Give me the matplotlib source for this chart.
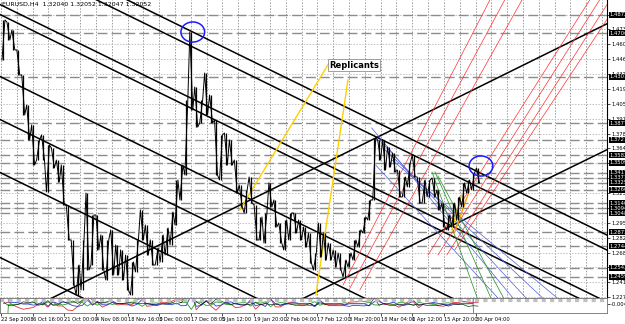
import numpy as np
import matplotlib
matplotlib.use("Agg")
import matplotlib.pyplot as plt
from matplotlib.patches import Ellipse
from matplotlib.transforms import blended_transform_factory

# EURUSD H4 in blocks of 10 bars (high / low)
col_high = [1.4826, 1.4807, 1.4734, 1.4550, 1.4319, 1.4043, 1.3859, 1.3721, 1.3767, 1.3675,
            1.3647, 1.3536, 1.3490, 1.3122, 1.2800, 1.2569, 1.2800, 1.3232, 1.3030, 1.3030,
            1.2846, 1.2800, 1.2892, 1.2754, 1.2708, 1.2661, 1.2597, 1.2800, 1.3076, 1.2938,
            1.2800, 1.2726, 1.2846, 1.2910, 1.3057, 1.3352, 1.3490, 1.4089, 1.4715, 1.4209,
            1.4089, 1.4338, 1.4135, 1.3905, 1.3767, 1.3785, 1.3721, 1.3536, 1.3306, 1.3260,
            1.3380, 1.3122, 1.3011, 1.3048, 1.3325, 1.3168, 1.2956, 1.2984, 1.3048, 1.3048,
            1.2984, 1.2919, 1.2864, 1.2680, 1.2956, 1.2864, 1.2772, 1.2708, 1.2680, 1.2615,
            1.2680, 1.2800, 1.2892, 1.3011, 1.3168, 1.3739, 1.3721, 1.3721, 1.3656, 1.3601,
            1.3444, 1.3380, 1.3509, 1.3582, 1.3380, 1.3352, 1.3352, 1.3371, 1.3260, 1.3140,
            1.3030, 1.3140, 1.3196, 1.3325, 1.3352, 1.3417, 1.3463]
col_low = [1.4457, 1.4642, 1.4550, 1.4319, 1.3951, 1.3721, 1.3490, 1.3536, 1.3536, 1.3242,
           1.3463, 1.3334, 1.3122, 1.2800, 1.2385, 1.2293, 1.2339, 1.2523, 1.2569, 1.2708,
           1.2523, 1.2431, 1.2477, 1.2477, 1.2431, 1.2339, 1.2293, 1.2505, 1.2800, 1.2661,
           1.2569, 1.2569, 1.2597, 1.2661, 1.2754, 1.2938, 1.3168, 1.3398, 1.3997, 1.3840,
           1.3877, 1.3951, 1.3877, 1.3398, 1.3352, 1.3490, 1.3490, 1.3232, 1.3104, 1.3048,
           1.3140, 1.2800, 1.2800, 1.2772, 1.3104, 1.2919, 1.2772, 1.2708, 1.2800, 1.2864,
           1.2800, 1.2735, 1.2588, 1.2523, 1.2643, 1.2615, 1.2615, 1.2551, 1.2523, 1.2459,
           1.2551, 1.2615, 1.2735, 1.2864, 1.2984, 1.3168, 1.3536, 1.3444, 1.3472, 1.3426,
           1.3196, 1.3196, 1.3288, 1.3380, 1.3140, 1.3140, 1.3196, 1.3196, 1.3076, 1.2919,
           1.2892, 1.2919, 1.2984, 1.3104, 1.3232, 1.3260, 1.3325]
bars_per_col = 10

time_labels = ["22 Sep 2008", "6 Oct 16:00", "21 Oct 00:00", "4 Nov 08:00", "18 Nov 16:00",
               "3 Dec 00:00", "17 Dec 08:00", "5 Jan 12:00", "19 Jan 20:00", "2 Feb 04:00",
               "17 Feb 12:00", "3 Mar 20:00", "18 Mar 04:00", "1 Apr 12:00", "15 Apr 20:00",
               "30 Apr 04:00"]
bars_per_label = 64

# horizontal levels (dashed) drawn by the trader
levels = [1.4872, 1.4706, 1.4301, 1.3877, 1.3721, 1.3582, 1.3509, 1.3417, 1.3371, 1.3325,
          1.3260, 1.3140, 1.3094, 1.3048, 1.2873, 1.2744, 1.2542, 1.2459]
price_ticks = [1.2273 + 0.0137 * k for k in range(20)]

# parallel falling channel lines: price at bar 0, common slope per bar
fall_start = [1.5581, 1.5443, 1.4964, 1.4872, 1.4301, 1.3905, 1.3417, 1.2634]
fall_slope = -0.0002232

# other lines: (bar0, price0, bar1, price1)
rise_lines = [(103, 1.2265, 1225, 1.4789), (605, 1.2247, 1225, 1.3629)]
red_lines = [(692, 1.2385, 989, 1.5010), (706, 1.2357, 1019, 1.5010), (726, 1.2339, 1054, 1.5010),
             (864, 1.2662, 1191, 1.5010), (884, 1.2662, 1211, 1.5010), (902, 1.2662, 1232, 1.5010),
             (918, 1.2708, 1252, 1.5010)]
blue_lines = [(750, 1.3831, 1039, 1.2247), (766, 1.3721, 1066, 1.2247), (777, 1.3629, 1100, 1.2247),
              (791, 1.3536, 1130, 1.2247), (758, 1.3490, 1009, 1.2247)]
green_lines = [(872, 1.3426, 965, 1.2247), (878, 1.3426, 993, 1.2247), (884, 1.3389, 1019, 1.2247)]
yellow_lines = [(483, 1.3076, 665, 1.4439), (637, 1.2293, 702, 1.4273), (912, 1.2892, 932, 1.3214)]
orange_lines = [(918, 1.2873, 948, 1.3260)]
circles = [(388, 1.4715), (971, 1.3481)]

xmin, xmax = -2, 1226
ymin, ymax = 1.2265, 1.5010

fig = plt.figure(figsize=(6.25, 3.24), dpi=100)
ax = fig.add_axes([0, 0.0802, 0.9712, 0.9198])
ind = fig.add_axes([0, 0.034, 0.9712, 0.0462])
ax.set_xlim(xmin, xmax)
ax.set_ylim(ymin, ymax)
ind.set_xlim(xmin, xmax)

grid_c = "#9a9a9a"
for b in range(0, xmax, bars_per_label // 2):
    ax.axvline(b, color=grid_c, lw=0.7, ls=(0, (1.5, 1.5)), zorder=1)
for p in price_ticks:
    ax.axhline(p, color="#c0c0c0", lw=0.7, ls=(0, (1.5, 1.5)), zorder=1)
for p in levels:
    ax.axhline(p, color="#8c8c8c", lw=1.0, ls=(0, (7, 3)), zorder=1.5)

xs = np.array([xmin, xmax])
for p0 in fall_start:
    ax.plot(xs, p0 + fall_slope * xs, color="black", lw=1.1, zorder=2)


def seg(lines, color, lw):
    for b0, p0, b1, p1 in lines:
        ax.plot([b0, b1], [p0, p1], color=color, lw=lw, zorder=2)


seg(rise_lines, "black", 1.1)
seg(red_lines, "#ff3030", 0.5)
seg(blue_lines, "#4f5fd8", 0.5)
seg(green_lines, "#2a9a2a", 0.55)
seg(yellow_lines, "#ffd000", 1.0)
seg(orange_lines, "#ff9900", 1.0)

# price bars
hi = np.array(col_high)
lo = np.array(col_low)
mid = (hi + lo) / 2
centers = np.arange(len(hi)) * bars_per_col + bars_per_col / 2
ax.vlines(centers, lo, hi, color="black", lw=0.9, zorder=3)
zx, zy = [], []
for k in range(len(hi)):
    up = k + 1 < len(hi) and mid[k + 1] > mid[k]
    zx += [centers[k] - 3, centers[k] + 3]
    zy += [lo[k], hi[k]] if up else [hi[k], lo[k]]
ax.plot(zx, zy, color="black", lw=0.7, zorder=3)

for cx, cy in circles:
    ax.add_patch(Ellipse((cx, cy), 48, 0.0185, fill=False, ec="#1a1aff", lw=1.1, zorder=4))

ax.text(714, 1.4411, "Replicants", fontsize=6, fontweight="bold", ha="center", va="center",
        zorder=5, bbox=dict(boxstyle="square,pad=0.15", fc="white", ec="#909090", lw=0.6))
ax.text(2, 1.4995, "EURUSD,H4  1.32040 1.32052 1.32047 1.32052", fontsize=4.5,
        ha="left", va="top", zorder=5)

# right price scale
ax.yaxis.tick_right()
ax.set_yticks(price_ticks)
ax.set_yticklabels(["%.4f" % p for p in price_ticks], fontsize=3.8)
ax.tick_params(axis="y", length=2, pad=1, width=0.5)
ax.set_xticks([])
tr = blended_transform_factory(ax.transAxes, ax.transData)
for p in levels:
    ax.text(1.004, p, "%.4f" % p, transform=tr, fontsize=3.8, color="white", ha="left",
            va="center", zorder=6, clip_on=False,
            bbox=dict(boxstyle="square,pad=0.1", fc="black", ec="none"))
for s in ["left", "top", "bottom"]:
    ax.spines[s].set_visible(False)
ax.spines["right"].set_linewidth(0.8)

# small oscillator panel under the chart
mom1 = np.diff(mid, prepend=mid[0])
mom2 = mid - np.convolve(mid, np.ones(3) / 3, mode="same")
rng = hi - lo
ind.plot(centers, mom1, color="#e03030", lw=0.6)
ind.plot(centers, mom2 * 1.5, color="#2040d0", lw=0.6)
ind.plot(centers, -mom2, color="#20a020", lw=0.6)
ind.plot(centers, rng - rng.mean(), color="black", lw=0.4)
ind.axhline(0.018, color="#c0c0c0", lw=3, ls=(0, (1, 1)))
ind.set_ylim(-0.05, 0.03)
ind.set_yticks([0])
ind.set_yticklabels(["-0.00494"], fontsize=3.8)
ind.yaxis.tick_right()
ind.tick_params(axis="y", length=2, pad=1, width=0.5)
ind.set_xticks([i * bars_per_label for i in range(len(time_labels))])
ind.set_xticklabels(time_labels, fontsize=3.7, ha="left")
ind.tick_params(axis="x", length=2, pad=1, width=0.5)
for s in ind.spines.values():
    s.set_linewidth(0.6)
    s.set_color("#707070")

fig.savefig("out.png", dpi=100)
